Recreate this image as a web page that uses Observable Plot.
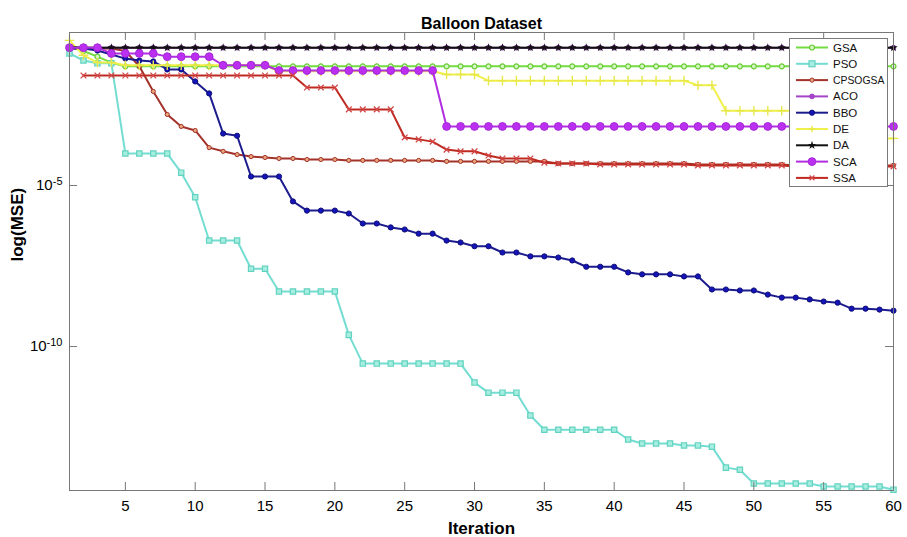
<!DOCTYPE html>
<html>
<head>
<meta charset="utf-8">
<script src="https://cdn.jsdelivr.net/npm/d3@7"></script>
<script src="https://cdn.jsdelivr.net/npm/@observablehq/plot@0.6"></script>
<style>
  body { margin: 0; background: #fff; font-family: "Liberation Sans", Arial, sans-serif; }
  #wrap { position: relative; width: 907px; height: 537px; }
  #legend { position: absolute; left: 789px; top: 38px; width: 99px; height: 149px;
            border: 1px solid #7a7a7a; background: #fff; box-sizing: border-box; }
</style>
</head>
<body>
<div id="wrap"><div id="legend"></div></div>
<script>
// ---- data ----
const iterations = [1,2,3,4,5,6,7,8,9,10,11,12,13,14,15,16,17,18,19,20,21,22,23,24,25,26,27,28,29,30,
                    31,32,33,34,35,36,37,38,39,40,41,42,43,44,45,46,47,48,49,50,51,52,53,54,55,56,57,58,59,60];
const xTicks = [5,10,15,20,25,30,35,40,45,50,55,60];
const yTicks = [1e-5, 1e-10];
const yTickBase = ["10", "10"];
const yTickExp = ["-5", "-10"];
const algorithms = ["GSA","PSO","CPSOGSA","ACO","BBO","DE","DA","SCA","SSA"];

const GSA = [0.2,0.15,0.1,0.065,0.05,0.05,0.05,0.05,0.05,0.05,0.05,0.05,0.05,0.05,0.05,0.05,0.05,0.05,0.05,0.05,
             0.05,0.05,0.05,0.05,0.05,0.05,0.05,0.05,0.05,0.05,0.05,0.05,0.05,0.05,0.05,0.05,0.05,0.05,0.05,0.05,
             0.05,0.05,0.05,0.05,0.05,0.05,0.05,0.05,0.05,0.05,0.05,0.05,0.05,0.05,0.05,0.05,0.05,0.05,0.05,0.05];
const PSO = [0.126,0.076,0.062,0.062,9.8e-5,9.8e-5,9.8e-5,9.8e-5,2.5e-5,4.3e-6,
             1.95e-7,1.95e-7,1.95e-7,2.6e-8,2.6e-8,5.1e-9,5.1e-9,5.1e-9,5.1e-9,5.1e-9,
             2.3e-10,2.95e-11,2.95e-11,2.95e-11,2.95e-11,2.95e-11,2.95e-11,2.95e-11,2.95e-11,7.6e-12,
             3.7e-12,3.7e-12,3.7e-12,7.2e-13,2.6e-13,2.6e-13,2.6e-13,2.6e-13,2.6e-13,2.6e-13,
             1.3e-13,9.8e-14,9.8e-14,9.8e-14,8.5e-14,8.5e-14,7.8e-14,1.74e-14,1.5e-14,5.6e-15,
             5.6e-15,5.6e-15,5.6e-15,5.6e-15,4.5e-15,4.5e-15,4.5e-15,4.5e-15,4.5e-15,3.6e-15];
const CPSOGSA = [0.18,0.18,0.18,0.18,0.15,0.05,8.3e-3,1.6e-3,6.8e-4,5.1e-4,
                 1.5e-4,1.15e-4,9.1e-5,7.9e-5,7.4e-5,6.9e-5,6.9e-5,6.4e-5,6.4e-5,6.4e-5,
                 6.0e-5,6.0e-5,6.0e-5,6.0e-5,6.0e-5,6.0e-5,6.0e-5,5.6e-5,5.6e-5,5.6e-5,
                 5.6e-5,5.6e-5,5.6e-5,5.6e-5,5.6e-5,4.8e-5,4.8e-5,4.8e-5,4.8e-5,4.8e-5,
                 4.8e-5,4.8e-5,4.8e-5,4.8e-5,4.8e-5,4.5e-5,4.5e-5,4.5e-5,4.5e-5,4.5e-5,
                 4.5e-5,4.5e-5,4.2e-5,4.2e-5,4.2e-5,4.2e-5,4.2e-5,4.2e-5,4.2e-5,4.2e-5];
const ACO = [0.19,0.19,0.19,0.19,0.19,0.19,0.19,0.19,0.19,0.19,0.19,0.19,0.19,0.19,0.19,0.19,0.19,0.19,0.19,0.19,
             0.19,0.19,0.19,0.19,0.19,0.19,0.19,0.19,0.19,0.19,0.19,0.19,0.19,0.19,0.19,0.19,0.19,0.19,0.19,0.19,
             0.19,0.19,0.19,0.19,0.19,0.19,0.19,0.19,0.19,0.19,0.19,0.19,0.19,0.19,0.19,0.19,0.19,0.19,0.19,0.19];
const BBO = [0.18,0.18,0.155,0.117,0.087,0.076,0.071,0.040,0.040,0.017,
             7.2e-3,4.1e-4,3.5e-4,1.9e-5,1.9e-5,1.9e-5,3.2e-6,1.66e-6,1.66e-6,1.66e-6,
             1.35e-6,6.6e-7,6.6e-7,5.0e-7,4.3e-7,3.2e-7,3.2e-7,1.95e-7,1.7e-7,1.3e-7,
             1.3e-7,8.3e-8,8.3e-8,6.3e-8,6.3e-8,5.8e-8,4.7e-8,3.0e-8,3.0e-8,3.0e-8,
             2.0e-8,1.74e-8,1.74e-8,1.74e-8,1.5e-8,1.5e-8,5.9e-9,5.9e-9,5.5e-9,5.5e-9,
             4.1e-9,3.3e-9,3.3e-9,2.9e-9,2.5e-9,2.3e-9,1.5e-9,1.5e-9,1.4e-9,1.3e-9];
const DE = [0.32,0.11,0.066,0.066,0.054,0.054,0.054,0.054,0.054,0.054,
            0.054,0.054,0.054,0.054,0.054,0.035,0.035,0.035,0.035,0.035,
            0.035,0.035,0.035,0.035,0.035,0.035,0.035,0.028,0.028,0.028,
            0.018,0.018,0.018,0.018,0.018,0.018,0.018,0.018,0.018,0.018,
            0.018,0.018,0.018,0.018,0.018,0.013,0.013,2.1e-3,2.1e-3,2.1e-3,
            2.1e-3,2.1e-3,2.1e-3,2.1e-3,2.1e-3,2.9e-4,2.9e-4,2.9e-4,2.9e-4,2.9e-4];
const DA = [0.2,0.19,0.19,0.19,0.19,0.19,0.19,0.19,0.19,0.19,0.19,0.19,0.19,0.19,0.19,0.19,0.19,0.19,0.19,0.19,
            0.19,0.19,0.19,0.19,0.19,0.19,0.19,0.19,0.19,0.19,0.19,0.19,0.19,0.19,0.19,0.19,0.19,0.19,0.19,0.19,
            0.19,0.19,0.19,0.19,0.19,0.19,0.19,0.19,0.19,0.19,0.19,0.19,0.19,0.19,0.19,0.19,0.19,0.19,0.19,0.19];
const SCA = [0.19,0.19,0.19,0.126,0.126,0.126,0.126,0.10,0.10,0.10,
             0.10,0.054,0.054,0.054,0.054,0.037,0.037,0.037,0.037,0.037,
             0.037,0.037,0.037,0.037,0.037,0.037,0.037,6.8e-4,6.8e-4,6.8e-4,
             6.8e-4,6.8e-4,6.8e-4,6.8e-4,6.8e-4,6.8e-4,6.8e-4,6.8e-4,6.8e-4,6.8e-4,
             6.8e-4,6.8e-4,6.8e-4,6.8e-4,6.8e-4,6.8e-4,6.8e-4,6.8e-4,6.8e-4,6.8e-4,
             6.8e-4,6.8e-4,6.8e-4,6.8e-4,6.8e-4,6.8e-4,6.8e-4,6.8e-4,6.8e-4,6.8e-4];
const SSA = [null,0.026,0.026,0.026,0.026,0.026,0.026,0.026,0.026,0.026,
             0.026,0.026,0.026,0.026,0.026,0.026,0.026,0.011,0.011,0.011,
             2.3e-3,2.3e-3,2.3e-3,2.3e-3,3.1e-4,2.7e-4,2.3e-4,1.3e-4,1.15e-4,1.15e-4,
             8.5e-5,6.9e-5,6.9e-5,6.9e-5,5.1e-5,4.8e-5,4.8e-5,4.8e-5,4.5e-5,4.5e-5,
             4.5e-5,4.5e-5,4.5e-5,4.5e-5,4.5e-5,4.2e-5,4.2e-5,4.2e-5,4.2e-5,4.2e-5,
             4.2e-5,4.2e-5,3.9e-5,3.9e-5,3.9e-5,3.9e-5,3.9e-5,3.9e-5,3.9e-5,3.9e-5];

const seriesValues = {GSA, PSO, CPSOGSA, ACO, BBO, DE, DA, SCA, SSA};

// ---- styles ----
const styles = {
  GSA:     {line: "#72dc40", symbol: "circle", r: 2.5, fill: "#d6f5c2", stroke: "#66cc33", sw: 1.2},
  PSO:     {line: "#74ddd2", symbol: "square", r: 3.0, fill: "#a6eedf", stroke: "#62d2c0", sw: 1.2},
  CPSOGSA: {line: "#a3332a", symbol: "circle", r: 2.1, fill: "#eaa47a", stroke: "#a3332a", sw: 1},
  ACO:     {line: "#a444c8", symbol: "circle", r: 2.4, fill: "#a444c8", stroke: "#a444c8", sw: 1},
  BBO:     {line: "#1c1c8e", symbol: "circle", r: 2.6, fill: "#1414b8", stroke: "#101078", sw: 1},
  DE:      {line: "#f0f04c", symbol: "plus",   r: 3.2, fill: "none",    stroke: "#e8e848", sw: 1.4},
  DA:      {line: "#111111", symbol: "star",   r: 2.6, fill: "#111111", stroke: "none",    sw: 0},
  SCA:     {line: "#b02ee0", symbol: "circle", r: 3.9, fill: "#bb2ff0", stroke: "#a728d8", sw: 1},
  SSA:     {line: "#bf2a20", symbol: "times",  r: 2.7, fill: "none",    stroke: "#d24848", sw: 1.3}
};

const seriesMarks = algorithms.flatMap(name => {
  const s = styles[name];
  const rows = seriesValues[name]
    .map((v, i) => ({name, x: iterations[i], y: v}))
    .filter(d => d.y != null);
  return [
    Plot.line(rows, {x: "x", y: "y", stroke: s.line, strokeWidth: 2}),
    Plot.dot(rows, {x: "x", y: "y", symbol: () => s.symbol, r: s.r, fill: s.fill, stroke: s.stroke, strokeWidth: s.sw})
  ];
});

const plotW = 907 - 69 - 14;
const plotH = 537 - 32 - 47;
const frameColor = "#777";

const chart = Plot.plot({
  width: 907,
  height: 537,
  marginTop: 32,
  marginBottom: 47,
  marginLeft: 69,
  marginRight: 14,
  style: {fontFamily: "'Liberation Sans', Arial, sans-serif", background: "white", color: "#000"},
  x: {domain: [1, 60]},
  y: {type: "log", domain: [3.39e-15, 0.562]},
  marks: [
    ...seriesMarks,
    Plot.frame({stroke: frameColor, strokeWidth: 1}),
    Plot.tickX(xTicks, {x: d => d, insetTop: plotH - 8, stroke: frameColor}),
    Plot.tickX(xTicks, {x: d => d, insetBottom: plotH - 8, stroke: frameColor}),
    Plot.tickY(yTicks, {y: d => d, insetRight: plotW - 8, stroke: frameColor}),
    Plot.tickY(yTicks, {y: d => d, insetLeft: plotW - 8, stroke: frameColor}),
    Plot.axisX(xTicks, {tickSize: 0, tickPadding: 10, fontSize: 15, label: null, tickFormat: d => String(d)}),
    Plot.axisY(yTicks, {tickSize: 0, tickPadding: 7, fontSize: 15, label: null,
                        tickFormat: d => yTickBase[yTicks.indexOf(d)] + yTickExp[yTicks.indexOf(d)]}),
    Plot.text(["Balloon Dataset"], {frameAnchor: "top", dy: -15, fontWeight: "bold", fontSize: 16}),
    Plot.text(["Iteration"], {frameAnchor: "bottom", dy: 43, fontWeight: "bold", fontSize: 17}),
    Plot.text(["log(MSE)"], {frameAnchor: "left", dx: -52, rotate: -90, fontWeight: "bold", fontSize: 17})
  ]
});

// render y tick labels as 10 with a superscript exponent
d3.select(chart).selectAll('g[aria-label="y-axis tick label"] text').each(function(d, i) {
  const t = d3.select(this);
  const k = yTicks.indexOf(d) >= 0 ? yTicks.indexOf(d) : i;
  t.text(null);
  t.append("tspan").text(yTickBase[k]);
  t.append("tspan").attr("dy", "-0.5em").attr("font-size", 11).text(yTickExp[k]);
});

const wrap = document.getElementById("wrap");
wrap.insertBefore(chart, wrap.firstChild);

// ---- legend (HTML overlay with a small SVG) ----
const lg = d3.select("#legend").append("svg").attr("width", 97).attr("height", 147)
  .style("font-family", "'Liberation Sans', Arial, sans-serif");
algorithms.forEach((name, i) => {
  const s = styles[name];
  const cy = 8.5 + i * 16.3;
  const g = lg.append("g").attr("transform", `translate(0,${cy})`);
  g.append("line").attr("x1", 6).attr("x2", 38).attr("y1", 0).attr("y2", 0)
    .attr("stroke", s.line).attr("stroke-width", 2);
  const mg = g.append("g").attr("transform", "translate(22,0)");
  if (s.symbol === "circle") {
    mg.append("circle").attr("r", s.r).attr("fill", s.fill).attr("stroke", s.stroke).attr("stroke-width", s.sw);
  } else if (s.symbol === "square") {
    mg.append("rect").attr("x", -s.r).attr("y", -s.r).attr("width", 2 * s.r).attr("height", 2 * s.r)
      .attr("fill", s.fill).attr("stroke", s.stroke).attr("stroke-width", s.sw);
  } else if (s.symbol === "star") {
    mg.append("path").attr("d", d3.symbol(d3.symbolStar, 22)()).attr("fill", s.fill);
  } else if (s.symbol === "plus") {
    mg.append("path").attr("d", "M-3.2,0H3.2M0,-3.2V3.2").attr("stroke", s.stroke).attr("stroke-width", s.sw);
  } else if (s.symbol === "times") {
    mg.append("path").attr("d", "M-2.4,-2.4L2.4,2.4M-2.4,2.4L2.4,-2.4").attr("stroke", s.stroke).attr("stroke-width", s.sw);
  }
  g.append("text").attr("x", 43).attr("y", 0).attr("dy", "0.35em")
    .attr("font-size", name === "CPSOGSA" ? 10.4 : 11.5).attr("fill", "#111").text(name);
});
</script>
</body>
</html>
